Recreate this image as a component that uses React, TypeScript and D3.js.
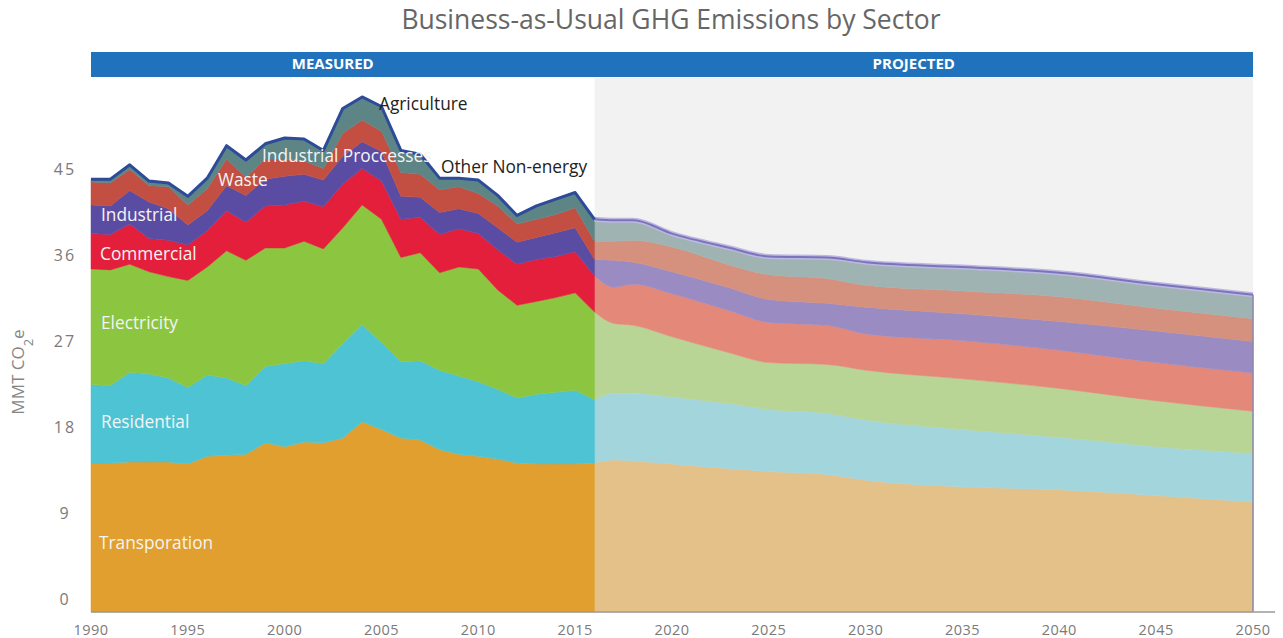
import React, { useEffect, useRef } from 'react';
import * as d3 from 'd3';

// measured, 1990-2016
const measuredYears = d3.range(1990, 2017);
const transportM = [15.6, 15.6, 15.7, 15.7, 15.7, 15.5, 16.3, 16.4, 16.5, 17.7, 17.3, 17.8, 17.7, 18.2, 19.9, 19.1, 18.2, 18.0, 17.0, 16.5, 16.3, 16.0, 15.6, 15.5, 15.5, 15.5, 15.6];
const residentialM = [8.2, 8.1, 9.4, 9.2, 8.8, 8.0, 8.5, 8.1, 7.2, 8.0, 8.7, 8.5, 8.3, 9.9, 10.2, 9.1, 8.0, 8.3, 8.3, 8.2, 7.8, 7.3, 6.8, 7.3, 7.5, 7.7, 6.6];
const electricityM = [12.1, 12.1, 11.3, 10.7, 10.6, 11.2, 11.3, 13.3, 13.1, 12.4, 12.1, 12.5, 12.0, 12.1, 12.5, 12.9, 10.9, 11.3, 10.2, 11.4, 11.8, 10.4, 9.7, 9.7, 9.9, 10.2, 9.2];
const commercialM = [3.7, 3.7, 4.2, 3.5, 3.8, 3.7, 3.8, 4.2, 4.0, 4.4, 4.5, 4.2, 4.4, 4.6, 3.8, 4.0, 4.0, 3.7, 4.0, 4.0, 3.7, 4.2, 4.3, 4.4, 4.3, 4.3, 3.8];
const industrialM = [3.0, 3.0, 3.5, 3.8, 3.3, 2.1, 2.1, 2.6, 2.8, 2.8, 3.0, 2.8, 2.8, 2.9, 2.8, 3.1, 2.4, 2.1, 2.3, 2.1, 2.1, 2.3, 2.3, 2.3, 2.5, 2.5, 1.7];
const wasteM = [2.4, 2.4, 2.2, 1.7, 2.3, 2.1, 2.3, 2.8, 1.9, 2.1, 1.8, 1.4, 1.2, 2.4, 2.3, 2.1, 2.5, 2.4, 2.4, 2.3, 2.1, 2.3, 1.9, 1.9, 1.9, 2.1, 1.9];
const processesM = [0.3, 0.4, 0.5, 0.5, 0.4, 0.9, 1.1, 1.4, 1.8, 1.6, 2.2, 2.3, 1.9, 2.6, 2.4, 2.6, 2.3, 2.1, 1.2, 0.9, 1.4, 1.1, 0.9, 1.4, 1.6, 1.6, 2.3];

// projected, 2016-2050
const projectedYears = [2016, 2017, 2018, 2020, 2023, 2025, 2028, 2030, 2035, 2040, 2045, 2050];
const transportP = [15.6, 15.9, 15.8, 15.5, 15.0, 14.7, 14.4, 13.8, 13.1, 12.8, 12.2, 11.5];
const residentialP = [6.6, 7.0, 7.1, 7.0, 6.8, 6.5, 6.4, 6.3, 6.0, 5.5, 5.1, 5.1];
const electricityP = [9.2, 7.3, 7.1, 6.3, 5.3, 4.9, 5.1, 5.2, 5.3, 5.1, 4.8, 4.4];
const commercialP = [3.8, 3.8, 4.3, 4.5, 4.4, 4.2, 4.1, 3.8, 4.0, 4.0, 4.0, 4.0];
const industrialP = [1.7, 2.8, 2.3, 2.3, 2.4, 2.4, 2.3, 2.8, 2.8, 3.0, 3.3, 3.3];
const wasteP = [1.9, 2.0, 2.3, 2.6, 2.4, 2.6, 2.6, 2.3, 2.4, 2.6, 2.4, 2.4];
const processesP = [2.3, 2.2, 2.1, 1.4, 1.8, 1.9, 2.2, 2.4, 2.5, 2.5, 2.5, 2.5];

const keys = ['transport', 'residential', 'electricity', 'commercial', 'industrial', 'waste', 'processes'];
const measuredColors = ['#e09f2e', '#4ec3d4', '#8cc540', '#e31f3b', '#5a4ca2', '#c24f42', '#5d8586'];
const projectedColors = ['#e5c18a', '#a3d5dd', '#b8d596', '#e4897a', '#9a8bc2', '#d5917e', '#9fb3b3'];

const yTicks = [0, 9, 18, 27, 36, 45];
const xTicks = d3.range(1990, 2051, 5);

const sectorLabels = [
  { text: 'Transporation', x: 99, y: 544, fill: '#f4f4f4' },
  { text: 'Residential', x: 101, y: 423, fill: '#f4f4f4' },
  { text: 'Electricity', x: 101, y: 324, fill: '#f4f4f4' },
  { text: 'Commercial', x: 100, y: 255, fill: '#f4f4f4' },
  { text: 'Industrial', x: 101, y: 216, fill: '#f4f4f4' },
  { text: 'Waste', x: 218, y: 181, fill: '#f4f4f4' },
  { text: 'Industrial Proccesses', x: 262, y: 157, fill: '#f4f4f4' },
  { text: 'Agriculture', x: 379, y: 105, fill: '#222' },
  { text: 'Other Non-energy', x: 441, y: 168, fill: '#222' },
];

const font = '"Open Sans", sans-serif';

const App: React.FC = () => {
  const svgRef = useRef<SVGSVGElement>(null);

  useEffect(() => {
    if (!svgRef.current) return;
    const width = 1283;
    const height = 638;

    const svg = d3.select(svgRef.current);
    svg.selectAll('*').remove();
    svg.attr('width', width).attr('height', height);

    const x = d3.scaleLinear().domain([1990, 2050]).range([91, 1253]);
    const y = d3.scaleLinear().domain([0, 45]).range([612, 182]);

    // projected background
    svg.append('rect')
      .attr('x', x(2016)).attr('y', 78)
      .attr('width', x(2050) - x(2016)).attr('height', y(0) - 78)
      .attr('fill', '#f2f2f2');

    // header bar
    svg.append('rect')
      .attr('x', x(1990)).attr('y', 52)
      .attr('width', x(2050) - x(1990)).attr('height', 25)
      .attr('fill', '#1f72bb');
    [['MEASURED', (x(1990) + x(2016)) / 2 - 10], ['PROJECTED', (x(2016) + x(2050)) / 2 - 10]].forEach(([t, cx]) => {
      svg.append('text')
        .attr('x', cx as number).attr('y', 65)
        .attr('text-anchor', 'middle').attr('dominant-baseline', 'middle')
        .attr('fill', '#fff').attr('font-family', font)
        .attr('font-size', 15).attr('font-weight', 700)
        .text(t as string);
    });

    const build = (years: number[], cols: number[][]) =>
      years.map((yr, i) => {
        const row: any = { year: yr };
        keys.forEach((k, j) => { row[k] = cols[j][i]; });
        return row;
      });

    const measured = build(measuredYears, [transportM, residentialM, electricityM, commercialM, industrialM, wasteM, processesM]);
    const projected = build(projectedYears, [transportP, residentialP, electricityP, commercialP, industrialP, wasteP, processesP]);

    const stack = d3.stack<any>().keys(keys);
    const mSeries = stack(measured);
    const pSeries = stack(projected);

    const areaM = d3.area<any>()
      .x(d => x(d.data.year))
      .y0(d => y(d[0]))
      .y1(d => y(d[1]));
    const areaP = d3.area<any>()
      .curve(d3.curveMonotoneX)
      .x(d => x(d.data.year))
      .y0(d => y(d[0]))
      .y1(d => y(d[1]));

    svg.append('g').selectAll('path')
      .data(pSeries).enter().append('path')
      .attr('d', areaP)
      .attr('fill', (_d, i) => projectedColors[i])
      .attr('stroke', (_d, i) => projectedColors[i])
      .attr('stroke-width', 0.5);

    svg.append('g').selectAll('path')
      .data(mSeries).enter().append('path')
      .attr('d', areaM)
      .attr('fill', (_d, i) => measuredColors[i])
      .attr('stroke', (_d, i) => measuredColors[i])
      .attr('stroke-width', 0.5);

    // outline on top of the stack
    const top = (s: any[]) => s[s.length - 1];
    const lineM = d3.line<any>().x(d => x(d.data.year)).y(d => y(d[1]));
    const lineP = d3.line<any>().curve(d3.curveMonotoneX).x(d => x(d.data.year)).y(d => y(d[1]));

    svg.append('path').attr('d', lineP(top(pSeries)))
      .attr('fill', 'none').attr('stroke', '#bdb8e0').attr('stroke-width', 5);
    svg.append('path').attr('d', lineP(top(pSeries)))
      .attr('fill', 'none').attr('stroke', '#7a74bd').attr('stroke-width', 2);
    svg.append('path').attr('d', lineM(top(mSeries)))
      .attr('fill', 'none').attr('stroke', '#2d4b99').attr('stroke-width', 3)
      .attr('stroke-linejoin', 'round');

    // right edge of projection
    const last = top(pSeries)[pSeries[0].length - 1];
    svg.append('line')
      .attr('x1', x(2050)).attr('x2', x(2050))
      .attr('y1', y(0)).attr('y2', y(last[1]))
      .attr('stroke', '#8b88a8').attr('stroke-width', 1.5);

    // x axis line
    svg.append('line')
      .attr('x1', x(1990)).attr('x2', 1275)
      .attr('y1', y(0)).attr('y2', y(0))
      .attr('stroke', '#9a9a9a').attr('stroke-width', 1.5);

    svg.append('g').selectAll('text')
      .data(xTicks).enter().append('text')
      .attr('x', d => x(d)).attr('y', 631)
      .attr('text-anchor', 'middle').attr('dominant-baseline', 'middle')
      .attr('fill', '#7a7a7a').attr('font-family', font).attr('font-size', 14.5)
      .attr('letter-spacing', 0.5)
      .text(d => d);

    svg.append('g').selectAll('text')
      .data(yTicks).enter().append('text')
      .attr('x', 65).attr('y', d => y(d) - 11)
      .attr('text-anchor', 'middle').attr('dominant-baseline', 'middle')
      .attr('fill', '#7a7a7a').attr('font-family', font).attr('font-size', 16)
      .attr('letter-spacing', 2)
      .text(d => d);

    // y axis title
    const yt = svg.append('text')
      .attr('transform', 'translate(24,372) rotate(-90)')
      .attr('text-anchor', 'middle')
      .attr('fill', '#858585').attr('font-family', font).attr('font-size', 17);
    yt.append('tspan').text('MMT CO');
    yt.append('tspan').attr('baseline-shift', 'sub').attr('font-size', 13).text('2');
    yt.append('tspan').text('e');

    // sector labels
    svg.append('g').selectAll('text')
      .data(sectorLabels).enter().append('text')
      .attr('x', d => d.x).attr('y', d => d.y)
      .attr('dominant-baseline', 'middle')
      .attr('fill', d => d.fill).attr('font-family', font).attr('font-size', 17.3)
      .text(d => d.text);

    // title
    svg.append('text')
      .attr('x', 671).attr('y', 22)
      .attr('text-anchor', 'middle').attr('dominant-baseline', 'middle')
      .attr('fill', '#666').attr('font-family', font).attr('font-size', 26.5)
      .text('Business-as-Usual GHG Emissions by Sector');
  }, []);

  return (
    <svg ref={svgRef} style={{ position: 'absolute', left: 0, top: 0, background: '#fff' }}></svg>
  );
};

export default App;
